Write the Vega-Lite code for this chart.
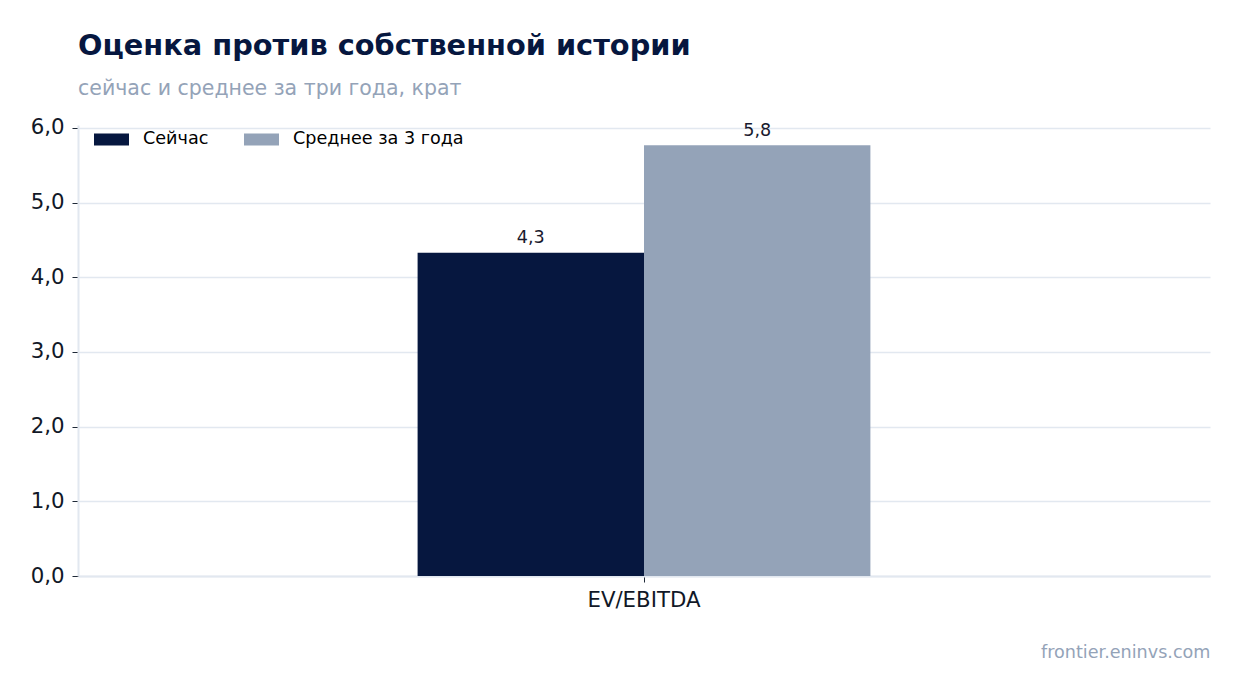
{
  "$schema": "https://vega.github.io/schema/vega-lite/v6.json",
  "width": 1132,
  "height": 451,
  "autosize": {"type": "none"},
  "padding": {"left": 78, "top": 125, "right": 30, "bottom": 117},
  "background": "white",
  "title": {
    "text": "Оценка против собственной истории",
    "subtitle": "сейчас и среднее за три года, крат",
    "anchor": "start",
    "frame": "group",
    "font": "DejaVu Sans",
    "fontSize": 28.8,
    "fontWeight": "bold",
    "color": "#06173f",
    "subtitleFont": "DejaVu Sans",
    "subtitleFontSize": 20.5,
    "subtitleColor": "#94a3b8",
    "subtitlePadding": 19,
    "offset": 17
  },
  "data": {
    "values": [
      {"metric": "EV/EBITDA", "series": "Сейчас", "value": 4.33},
      {"metric": "EV/EBITDA", "series": "Среднее за 3 года", "value": 5.77}
    ]
  },
  "transform": [
    {"calculate": "replace(format(datum.value, '.1f'), '.', ',')", "as": "label"}
  ],
  "encoding": {
    "x": {
      "field": "metric",
      "type": "nominal",
      "scale": {"paddingInner": 0, "paddingOuter": 0.75},
      "axis": {
        "title": "frontier.eninvs.com",
        "titleAnchor": "end",
        "titleColor": "#94a3b8",
        "titleFont": "DejaVu Sans",
        "titleFontSize": 17.6,
        "titleFontWeight": "normal",
        "titlePadding": 33,
        "labelAngle": 0,
        "labelFont": "DejaVu Sans",
        "labelFontSize": 21.3,
        "labelColor": "#111827",
        "labelPadding": 7,
        "domainColor": "#e2e8f0",
        "domainWidth": 2,
        "tickColor": "#1f2937",
        "tickSize": 6,
        "grid": false
      }
    },
    "xOffset": {
      "field": "series",
      "type": "nominal",
      "sort": ["Сейчас", "Среднее за 3 года"],
      "scale": {"paddingInner": 0, "paddingOuter": 0}
    },
    "y": {
      "field": "value",
      "type": "quantitative",
      "scale": {"domain": [0, 6.04], "nice": false},
      "axis": {
        "title": null,
        "values": [0, 1, 2, 3, 4, 5, 6],
        "labelExpr": "replace(format(datum.value, '.1f'), '.', ',')",
        "labelFont": "DejaVu Sans",
        "labelFontSize": 21.3,
        "labelColor": "#111827",
        "labelPadding": 8,
        "domainColor": "#e2e8f0",
        "domainWidth": 2,
        "tickColor": "#1f2937",
        "tickSize": 6,
        "grid": true,
        "gridColor": "#e2e8f0",
        "gridWidth": 1.5
      }
    }
  },
  "layer": [
    {
      "mark": {"type": "bar"},
      "encoding": {
        "color": {
          "field": "series",
          "type": "nominal",
          "sort": ["Сейчас", "Среднее за 3 года"],
          "scale": {"domain": ["Сейчас", "Среднее за 3 года"], "range": ["#06173f", "#94a3b8"]},
          "legend": {
            "title": null,
            "orient": "none",
            "legendX": 16,
            "legendY": -3.5,
            "direction": "horizontal",
            "symbolType": "M-1,-0.343H1V0.343H-1Z",
            "symbolSize": 1225,
            "symbolStrokeWidth": 0,
            "labelFont": "DejaVu Sans",
            "labelFontSize": 17.6,
            "labelColor": "#000000",
            "labelOffset": 14,
            "labelLimit": 0,
            "columnPadding": 35
          }
        }
      }
    },
    {
      "mark": {"type": "text", "baseline": "bottom", "dy": -5.5, "font": "DejaVu Sans", "fontSize": 17.6, "color": "#1a1a2e"},
      "encoding": {
        "text": {"field": "label"}
      }
    }
  ],
  "config": {
    "view": {"stroke": null}
  }
}
